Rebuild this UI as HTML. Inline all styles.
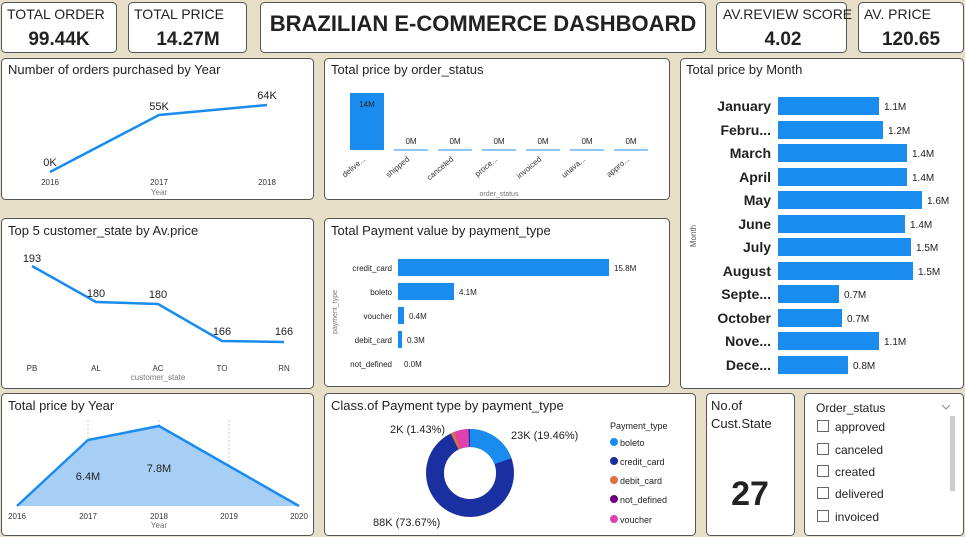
<!DOCTYPE html>
<html><head><meta charset="utf-8"><style>
body{margin:0;background:#e6dec6;}
svg{display:block;font-family:"Liberation Sans",sans-serif;}
</style></head><body>
<svg width="965" height="537" viewBox="0 0 965 537">
<rect width="965" height="537" fill="#e6dec6"/>
<g fill="#fff" stroke="#555" stroke-width="1">
<rect x="1.5" y="2.5" width="115" height="50" rx="4"/>
<rect x="128.5" y="2.5" width="118" height="50" rx="4"/>
<rect x="260.5" y="2.5" width="445" height="50" rx="4"/>
<rect x="716.5" y="2.5" width="130" height="50" rx="4"/>
<rect x="858.5" y="2.5" width="105" height="50" rx="4"/>
<rect x="1.5" y="58.5" width="312" height="141" rx="4"/>
<rect x="324.5" y="58.5" width="345" height="141" rx="4"/>
<rect x="680.5" y="58.5" width="283" height="330" rx="4"/>
<rect x="1.5" y="218.5" width="312" height="170" rx="4"/>
<rect x="324.5" y="218.5" width="345" height="168" rx="4"/>
<rect x="1.5" y="393.5" width="312" height="142" rx="4"/>
<rect x="324.5" y="393.5" width="371" height="142" rx="4"/>
<rect x="706.5" y="393.5" width="88" height="142" rx="4"/>
<rect x="804.5" y="393.5" width="159" height="142" rx="4"/>
</g>
<g fill="#222" font-size="14">
<text x="7" y="19">TOTAL ORDER</text>
<text x="134" y="19">TOTAL PRICE</text>
<text x="723" y="19">AV.REVIEW SCORE</text>
<text x="864" y="19">AV. PRICE</text>
</g>
<g fill="#222" font-size="19" font-weight="bold" text-anchor="middle">
<text x="59" y="45">99.44K</text>
<text x="188" y="45">14.27M</text>
<text x="783" y="45">4.02</text>
<text x="911" y="45">120.65</text>
</g>
<text x="483" y="31" font-size="22" font-weight="bold" fill="#222" text-anchor="middle">BRAZILIAN E-COMMERCE DASHBOARD</text>
<g fill="#222" font-size="13">
<text x="8" y="74">Number of orders purchased by Year</text>
<text x="331" y="74">Total price by order_status</text>
<text x="686" y="74">Total price by Month</text>
<text x="8" y="235">Top 5 customer_state by Av.price</text>
<text x="331" y="235">Total Payment value by payment_type</text>
<text x="8" y="410">Total price by Year</text>
<text x="331" y="410">Class.of Payment type by payment_type</text>
<text x="711" y="410">No.of</text>
<text x="711" y="428">Cust.State</text>
<text x="816" y="412" font-size="12">Order_status</text>
</g>
<!-- orders by year -->
<polyline points="50,172 159,115 267,105" fill="none" stroke="#1a8cf0" stroke-width="2.5"/>
<g font-size="11" fill="#222" text-anchor="middle">
<text x="50" y="166">0K</text><text x="159" y="110">55K</text><text x="267" y="99">64K</text>
</g>
<g font-size="8" fill="#333" text-anchor="middle">
<text x="50" y="185">2016</text><text x="159" y="185">2017</text><text x="267" y="185">2018</text>
<text x="159" y="195" fill="#777">Year</text></g>
<!-- order status -->
<rect x="350" y="93" width="34" height="57" fill="#1a8cf0"/>
<g stroke="#1a8cf0"><line x1="394" y1="150" x2="428" y2="150"/><line x1="438" y1="150" x2="472" y2="150"/><line x1="482" y1="150" x2="516" y2="150"/><line x1="526" y1="150" x2="560" y2="150"/><line x1="570" y1="150" x2="604" y2="150"/><line x1="614" y1="150" x2="648" y2="150"/></g>
<g font-size="8" fill="#222" text-anchor="middle">
<text x="367" y="107">14M</text><text x="411" y="144">0M</text><text x="455" y="144">0M</text><text x="499" y="144">0M</text><text x="543" y="144">0M</text><text x="587" y="144">0M</text><text x="631" y="144">0M</text>
</g>
<g font-size="8" fill="#333" text-anchor="end">
<text transform="translate(366,160) rotate(-40)">delive...</text>
<text transform="translate(410,160) rotate(-40)">shipped</text>
<text transform="translate(454,160) rotate(-40)">canceled</text>
<text transform="translate(498,160) rotate(-40)">proce...</text>
<text transform="translate(542,160) rotate(-40)">invoiced</text>
<text transform="translate(586,160) rotate(-40)">unava...</text>
<text transform="translate(630,160) rotate(-40)">appro...</text>
</g>
<text x="499" y="196" font-size="7" fill="#777" text-anchor="middle">order_status</text>
<!-- month -->
<g fill="#1a8cf0">
<rect x="778" y="97" width="101" height="18"/><rect x="778" y="121" width="105" height="18"/>
<rect x="778" y="144" width="129" height="18"/><rect x="778" y="168" width="129" height="18"/>
<rect x="778" y="191" width="144" height="18"/><rect x="778" y="215" width="127" height="18"/>
<rect x="778" y="238" width="133" height="18"/><rect x="778" y="262" width="135" height="18"/>
<rect x="778" y="285" width="61" height="18"/><rect x="778" y="309" width="64" height="18"/>
<rect x="778" y="332" width="101" height="18"/><rect x="778" y="356" width="70" height="18"/>
</g>
<g font-size="14" font-weight="bold" fill="#222" text-anchor="end">
<text x="771" y="111">January</text><text x="771" y="135">Febru...</text><text x="771" y="158">March</text><text x="771" y="182">April</text><text x="771" y="205">May</text><text x="771" y="229">June</text><text x="771" y="252">July</text><text x="771" y="276">August</text><text x="771" y="299">Septe...</text><text x="771" y="323">October</text><text x="771" y="346">Nove...</text><text x="771" y="370">Dece...</text>
</g>
<g font-size="10" fill="#222">
<text x="884" y="110">1.1M</text><text x="888" y="134">1.2M</text><text x="912" y="157">1.4M</text><text x="912" y="181">1.4M</text><text x="927" y="204">1.6M</text><text x="910" y="228">1.4M</text><text x="916" y="251">1.5M</text><text x="918" y="275">1.5M</text><text x="844" y="298">0.7M</text><text x="847" y="322">0.7M</text><text x="884" y="345">1.1M</text><text x="853" y="369">0.8M</text>
</g>
<text transform="translate(696,236) rotate(-90)" font-size="8" fill="#555" text-anchor="middle">Month</text>
<!-- top5 state -->
<polyline points="32,266 96,302 158,304 222,341 284,342" fill="none" stroke="#1a8cf0" stroke-width="2.5"/>
<g font-size="11" fill="#222" text-anchor="middle">
<text x="32" y="262">193</text><text x="96" y="297">180</text><text x="158" y="298">180</text><text x="222" y="335">166</text><text x="284" y="335">166</text></g>
<g font-size="8" fill="#333" text-anchor="middle">
<text x="32" y="371">PB</text><text x="96" y="371">AL</text><text x="158" y="371">AC</text><text x="222" y="371">TO</text><text x="284" y="371">RN</text>
<text x="158" y="380" fill="#777">customer_state</text></g>
<!-- payment value -->
<g fill="#1a8cf0"><rect x="398" y="259" width="211" height="17"/><rect x="398" y="283" width="56" height="17"/><rect x="398" y="307" width="6" height="17"/><rect x="398" y="331" width="4" height="17"/></g>
<g font-size="8" fill="#222" text-anchor="end"><text x="392" y="271">credit_card</text><text x="392" y="295">boleto</text><text x="392" y="319">voucher</text><text x="392" y="343">debit_card</text><text x="392" y="367">not_defined</text></g>
<g font-size="8" fill="#222"><text x="614" y="271">15.8M</text><text x="459" y="295">4.1M</text><text x="409" y="319">0.4M</text><text x="407" y="343">0.3M</text><text x="404" y="367">0.0M</text></g>
<text transform="translate(337,312) rotate(-90)" font-size="7" fill="#777" text-anchor="middle">payment_type</text>
<!-- price by year -->
<g stroke="#ccc" stroke-dasharray="2,2"><line x1="88" y1="420" x2="88" y2="506"/><line x1="159" y1="420" x2="159" y2="506"/><line x1="229" y1="420" x2="229" y2="506"/></g>
<polygon points="17,506 88,440 159,426 229,466 299,506" fill="#a7cff5"/>
<polyline points="17,506 88,440 159,426 229,466 299,506" fill="none" stroke="#1a8cf0" stroke-width="2.5"/>
<g font-size="11" fill="#222" text-anchor="middle"><text x="88" y="480">6.4M</text><text x="159" y="472">7.8M</text></g>
<g font-size="8" fill="#333" text-anchor="middle"><text x="17" y="519">2016</text><text x="88" y="519">2017</text><text x="159" y="519">2018</text><text x="229" y="519">2019</text><text x="299" y="519">2020</text><text x="159" y="528" fill="#777">Year</text></g>
<!-- donut -->
<g transform="translate(470,473)">
<circle r="35" fill="none" stroke="#1a2fa0" stroke-width="18"/>
<circle r="35" fill="none" stroke="#1a8cf0" stroke-width="18" stroke-dasharray="42.8 300" transform="rotate(-90)"/>
<circle r="35" fill="none" stroke="#e040b0" stroke-width="18" stroke-dasharray="11.7 300" transform="rotate(-111)"/>
<circle r="35" fill="none" stroke="#e07040" stroke-width="18" stroke-dasharray="3.1 300" transform="rotate(-116)"/>
</g>
<g font-size="11" fill="#222"><text x="390" y="433">2K (1.43%)</text><text x="511" y="439">23K (19.46%)</text><text x="373" y="526">88K (73.67%)</text></g>
<g font-size="9" fill="#222">
<text x="610" y="429">Payment_type</text>
<circle cx="614" cy="442" r="4" fill="#1a8cf0"/><text x="620" y="446">boleto</text>
<circle cx="614" cy="461" r="4" fill="#1a2fa0"/><text x="620" y="465">credit_card</text>
<circle cx="614" cy="480" r="4" fill="#e07040"/><text x="620" y="484">debit_card</text>
<circle cx="614" cy="499" r="4" fill="#700080"/><text x="620" y="503">not_defined</text>
<circle cx="614" cy="519" r="4" fill="#e040b0"/><text x="620" y="523">voucher</text>
</g>
<text x="750" y="505" font-size="34" font-weight="bold" fill="#222" text-anchor="middle">27</text>
<!-- slicer -->
<g fill="#fff" stroke="#666"><rect x="817.5" y="420.5" width="11" height="11"/><rect x="817.5" y="443.5" width="11" height="11"/><rect x="817.5" y="465.5" width="11" height="11"/><rect x="817.5" y="487.5" width="11" height="11"/><rect x="817.5" y="510.5" width="11" height="11"/></g>
<g font-size="12" fill="#222"><text x="835" y="431">approved</text><text x="835" y="454">canceled</text><text x="835" y="476">created</text><text x="835" y="498">delivered</text><text x="835" y="521">invoiced</text></g>
<rect x="950" y="416" width="5" height="75" fill="#ccc"/>
<polyline points="942,405 946,409 950,405" fill="none" stroke="#888"/>
</svg>
</body></html>
